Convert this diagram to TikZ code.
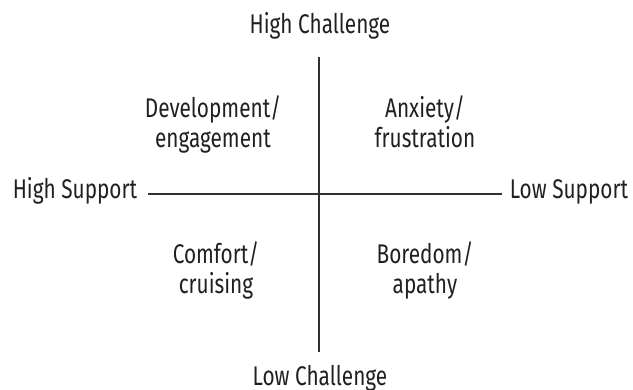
\documentclass[tikz,border=0pt]{standalone}
\usepackage{fontspec}
\setmainfont{Fira Sans}[FakeStretch=0.77]
\usepackage{tikz}

\definecolor{ink}{HTML}{231F20}
\definecolor{axisgray}{HTML}{303030}

\begin{document}
\begin{tikzpicture}[x=1pt, y=1pt,
    lbl/.style={inner sep=0, anchor=base, text=ink, font=\fontsize{27}{30}\selectfont},
    quad/.style={lbl, align=center}]
    \useasboundingbox (-319,-195) rectangle (314,194);
    % The two axes, crossing at the origin.
        \coordinate (top) at (0,137);
        \coordinate (bottom) at (0,-158);
        \coordinate (left) at (-171,0);
        \coordinate (right) at (183,0);
        \draw[axisgray, line width=1.3pt] (top) -- (bottom);
        \draw[axisgray, line width=1.3pt] (left) -- (right);
    % Below nodes are the axis labels.
        \node[lbl] (hichal) at (1,161) {High Challenge};
        \node[lbl] (lochal) at (1,-191) {Low Challenge};
        \node[lbl] (hisup) at (-244,-4) {High Support};
        \node[lbl] (losup) at (250,-4) {Low Support};
    % And these fill the four quadrants (base is the last line).
        \node[quad] (devel) at (-106,47) {Development/\\engagement};
        \node[quad] (anxiety) at (106,47) {Anxiety/\\frustration};
        \node[quad] (comfort) at (-103,-99) {Comfort/\\cruising};
        \node[quad] (boredom) at (106,-99) {Boredom/\\apathy};
\end{tikzpicture}
\end{document}
